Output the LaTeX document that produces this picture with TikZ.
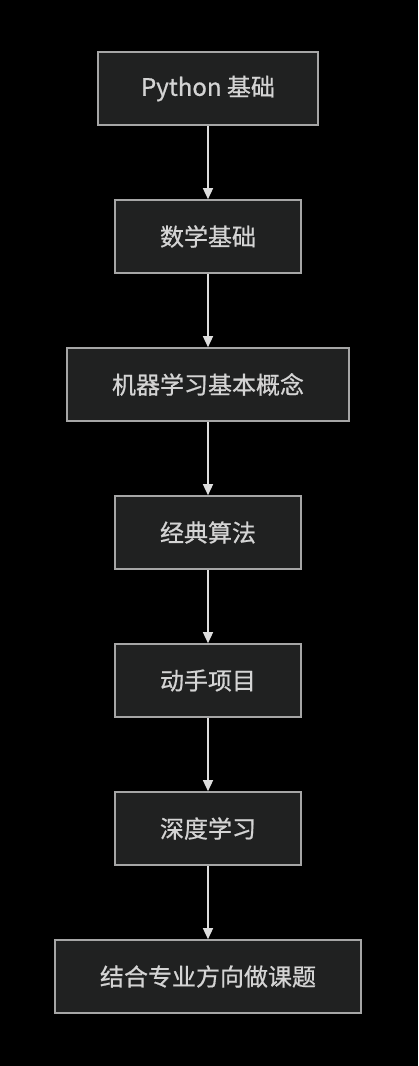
\documentclass[tikz,border=0pt]{standalone}
\usepackage{fontspec}
\setmainfont{Noto Sans CJK SC}
\newfontfamily\boxfont[FakeBold=0.7]{Noto Sans CJK SC}
\usetikzlibrary{arrows.meta}
\definecolor{boxfill}{HTML}{202121}
\definecolor{boxline}{HTML}{A6A6A6}
\definecolor{boxtext}{HTML}{D4D4D4}
\definecolor{edgeline}{HTML}{DDDDDD}
\tikzset{
  stepbox/.style={draw=boxline,fill=boxfill,line width=1.6pt,text=boxtext,
    minimum height=73pt,inner sep=0pt,font=\boxfont\fontsize{24}{28}\selectfont},
  flow/.style={draw=edgeline,line width=1.4pt,-{Triangle[length=11pt,width=10pt]}}
}
\begin{document}
\begin{tikzpicture}[x=1pt,y=1pt]
\fill[black] (0,0) rectangle (418,-1066);
\useasboundingbox (0,0) rectangle (418,-1066);
\node[stepbox,minimum width=220pt] (py) at (208,-88.5) {Python 基础};
\node[stepbox,minimum width=186pt] (math) at (208,-236.5) {数学基础};
\node[stepbox,minimum width=282pt] (ml) at (208,-384.5) {机器学习基本概念};
\node[stepbox,minimum width=186pt] (algo) at (208,-532.5) {经典算法};
\node[stepbox,minimum width=186pt] (proj) at (208,-680.5) {动手项目};
\node[stepbox,minimum width=186pt] (dl) at (208,-828.5) {深度学习};
\node[stepbox,minimum width=306pt] (topic) at (208,-976.5) {结合专业方向做课题};
%\draw[red] (208,0) -- (208,-1066);
\draw[flow] (py) -- (math);
\draw[flow] (math) -- (ml);
\draw[flow] (ml) -- (algo);
\draw[flow] (algo) -- (proj);
\draw[flow] (proj) -- (dl);
\draw[flow] (dl) -- (topic);
\end{tikzpicture}
\end{document}
